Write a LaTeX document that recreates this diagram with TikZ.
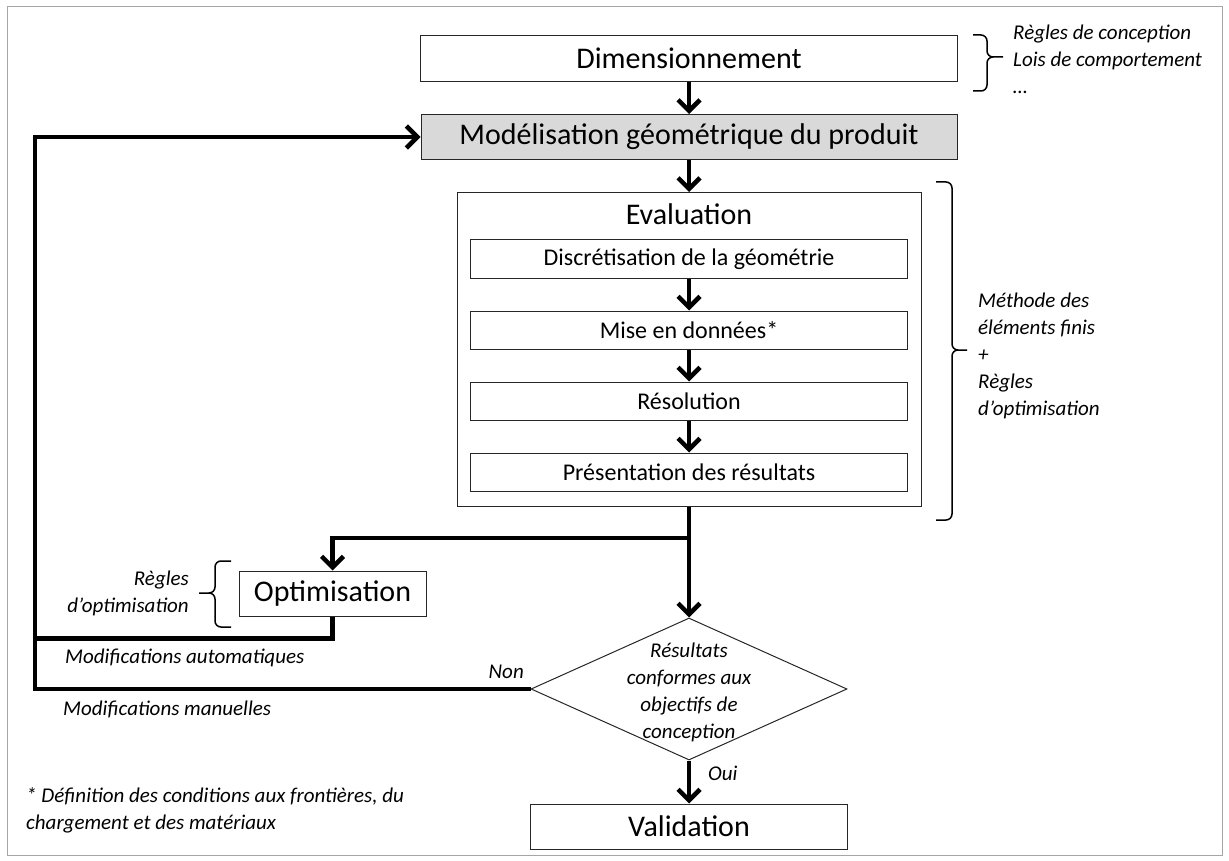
\documentclass[tikz,border=0pt]{standalone}
\usepackage{fontspec}
\setmainfont{Carlito}
\usepackage{tikz}
\usetikzlibrary{positioning,shapes.geometric,arrows.meta}

\newcommand{\boxfont}{\fontsize{30}{36}\selectfont}
\newcommand{\stepfont}{\fontsize{24}{29}\selectfont}
\newcommand{\notefont}{\fontsize{21}{27}\selectfont\itshape}

\begin{document}
\begin{tikzpicture}[x=1pt, y=-1pt, node distance=32pt,
    box/.style={rectangle, draw=black!85, line width=1pt, inner sep=0pt, minimum height=46pt, font=\boxfont},
    stepbox/.style={rectangle, draw=black!85, line width=1pt, inner sep=0pt, minimum width=437pt, minimum height=38pt, font=\stepfont},
    note/.style={font=\notefont, inner sep=0pt, align=left},
    link/.style={line width=4.5pt},
    flow/.style={link, -{Straight Barb[length=11pt, width=22pt]}},
    curly/.style={line width=1.5pt, rounded corners=6pt}]
    \useasboundingbox (0,0) rectangle (1229,861);
    \draw[gray!70, line width=1pt] (7,7) rectangle (1222,855);

    % Main components
    \node[box, minimum width=537pt] (dimensioning) at (689,58.5) {Dimensionnement};
    \node[box, fill=gray!30, minimum width=536pt, minimum height=45pt, below=32pt of dimensioning] (modeling) {Modélisation géométrique du produit};
    \node[box, minimum width=464pt, minimum height=314pt, below=32pt of modeling] (evaluation) {};
    \node[font=\boxfont, inner sep=0pt] (evaltitle) at (689,214) {Evaluation};

    % Steps of the evaluation
    \node[stepbox] (discretize) at (689,259) {Discrétisation de la géométrie};
    \node[stepbox, below=32pt of discretize] (setup) {Mise en données*};
    \node[stepbox, below=32pt of setup] (solve) {Résolution};
    \node[stepbox, below=32pt of solve] (results) {Présentation des résultats};

    % Optimisation and decision
    \node[box, minimum width=187pt, minimum height=45pt] (optimizer) at (332.5,593.5) {Optimisation};
    \node[diamond, draw=black!85, line width=1pt, inner sep=0pt, aspect=2.2, minimum width=316pt, minimum height=142pt] (check) at (689,689) {};
    \node[note, align=center] (checktext) at (689,692) {Résultats\\conformes aux\\objectifs de\\conception};
    \node[box, minimum width=317pt, minimum height=45pt, below=43pt of check] (validation) {Validation};

    % Data flow
    \draw[flow] (dimensioning) -- (modeling);
    \draw[flow] (modeling) -- (evaluation);
    \foreach \from/\to in {discretize/setup, setup/solve, solve/results}
        \draw[flow] (\from) -- (\to);
    \coordinate (split) at (689,538);
    \coordinate (loop) at (35,0);
    \draw[flow] (evaluation) -- (check);
    \draw[flow] (split) -| (optimizer);
    \draw[link] (check.west) -| (loop |- modeling.west);
    \draw[flow] (optimizer.south) -- ++(0,22) -| (loop |- modeling.west) -- (modeling);
    \draw[flow] (check) -- (validation);
    \node[note, anchor=east] (no) at (524,672) {Non};
    \node[note, anchor=west] (yes) at (708,773) {Oui};

    % Braces and side notes
    \draw[curly] (973,35) -- (987,35) -- (987,57) -- (1003,57) (1003,57) -- (987,57) -- (987,91) -- (973,91);
    \node[note, anchor=west] (rules) at (1013,59) {Règles de conception\\Lois de comportement\\\ldots};
    \draw[curly] (936,182) -- (952,182) -- (952,350) -- (967,350) (967,350) -- (952,350) -- (952,520) -- (936,520);
    \node[note, anchor=west] (fem) at (978,356) {Méthode des\\éléments finis\\+\\Règles\\d'optimisation};
    \draw[curly] (231,561) -- (215,561) -- (215,593) -- (199,593) (199,593) -- (215,593) -- (215,627) -- (231,627);
    \node[note, align=right, anchor=east] (optrules) at (189,593) {Règles\\d'optimisation};
    \node[note, anchor=west] (auto) at (65,658) {Modifications automatiques};
    \node[note, anchor=west] (manual) at (63,709) {Modifications manuelles};
    \node[note, anchor=west] (footnote) at (26,810) {* Définition des conditions aux frontières, du\\chargement et des matériaux};
\end{tikzpicture}
\end{document}
